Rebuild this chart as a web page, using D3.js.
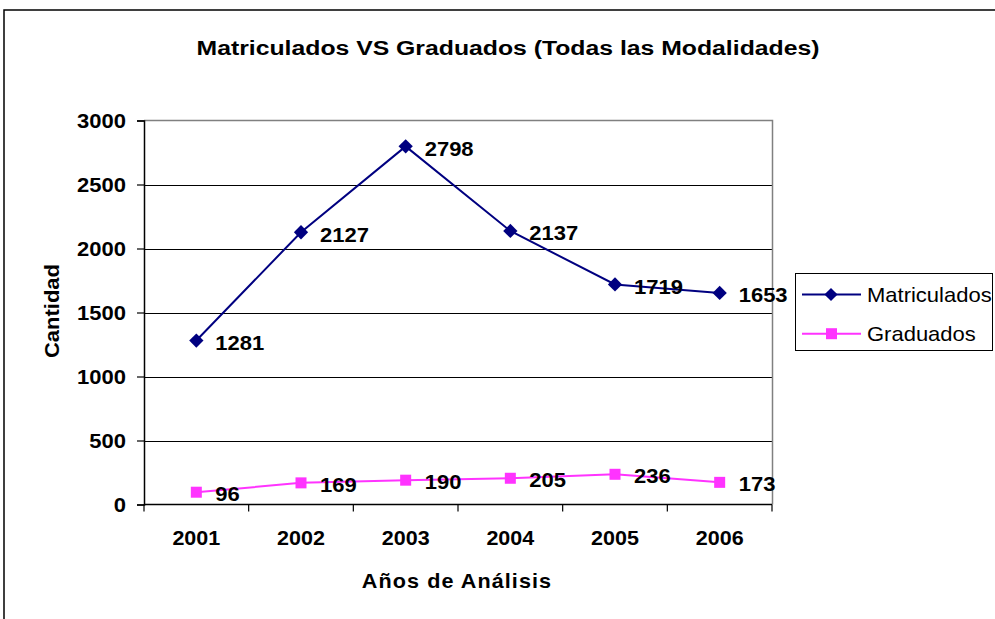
<!DOCTYPE html>
<html>
<head>
<meta charset="utf-8">
<script src="https://cdn.jsdelivr.net/npm/d3@7"></script>
<style>
  body { margin: 0; background: #fff; }
  text { font-family: "Liberation Sans", Arial, sans-serif; }
</style>
</head>
<body>
<div id="chart"></div>
<script>
var width = 995;
var height = 619;

// data
var years = ['2001', '2002', '2003', '2004', '2005', '2006'];
var matriculados = [1281, 2127, 2798, 2137, 1719, 1653];
var graduados = [96, 169, 190, 205, 236, 173];
var yTicks = [0, 500, 1000, 1500, 2000, 2500, 3000];

var svg = d3.select('#chart').append('svg').attr('width', width).attr('height', height);

// the original picture is a bit stretched sideways, so texts get a small x scale
function txt(g, x, y, sx, str) {
    return g.append('text')
        .attr('transform', 'translate(' + x + ',' + y + ') scale(' + sx + ',1)')
        .text(str);
}

// outer chart frame
svg.append('rect')
    .attr('x', 4).attr('y', 10)
    .attr('width', 1000).attr('height', 700)
    .attr('fill', 'none').attr('stroke', '#000').attr('stroke-width', 1.5);

var pLeft = 144, pRight = 772, pTop = 120.5, pBottom = 504.5;

var x = d3.scaleBand().domain(years).range([pLeft, pRight]).padding(0);
var y = d3.scaleLinear().domain([0, 3000]).range([pBottom, pTop]);
var cx = function(d){ return x(d) + x.bandwidth() / 2; };

// gridlines
svg.append('g')
    .selectAll('line')
    .data(yTicks.slice(1, -1))
    .enter().append('line')
    .attr('x1', pLeft).attr('x2', pRight)
    .attr('y1', function(d){ return Math.round(y(d)) + 0.5; })
    .attr('y2', function(d){ return Math.round(y(d)) + 0.5; })
    .attr('stroke', '#000').attr('stroke-width', 1);

// plot area border (top and right in gray)
svg.append('path')
    .attr('d', 'M' + pLeft + ',' + pTop + 'H' + (pRight + 0.5) + 'V' + pBottom)
    .attr('fill', 'none').attr('stroke', '#808080').attr('stroke-width', 1.5);

// y axis
var yAxis = svg.append('g')
    .attr('transform', 'translate(' + pLeft + ',0)')
    .call(d3.axisLeft(y).tickValues(yTicks).tickSize(7).tickFormat(''));
yAxis.select('.domain').attr('stroke', '#000').attr('stroke-width', 1.5);
yAxis.selectAll('.tick line').attr('stroke', '#000').attr('stroke-width', 1.2);
yTicks.forEach(function(t){
    txt(svg, 126, y(t) + 7.5, 1.1, t)
        .attr('text-anchor', 'end')
        .attr('font-size', 20).attr('font-weight', 'bold');
});

// x axis
var xAxis = svg.append('g').attr('transform', 'translate(0,' + pBottom + ')');
xAxis.append('line')
    .attr('x1', pLeft).attr('x2', pRight)
    .attr('stroke', '#000').attr('stroke-width', 1.5);
xAxis.selectAll('.xt')
    .data(years.concat(['end']))
    .enter().append('line')
    .attr('class', 'xt')
    .attr('x1', function(d){ return d == 'end' ? pRight : x(d); })
    .attr('x2', function(d){ return d == 'end' ? pRight : x(d); })
    .attr('y1', 0).attr('y2', 7)
    .attr('stroke', '#000').attr('stroke-width', 1.2);
years.forEach(function(d){
    txt(xAxis, cx(d), 40, 1.05, d)
        .attr('text-anchor', 'middle')
        .attr('font-size', 20.5).attr('font-weight', 'bold');
});

// titles
txt(svg, 508, 55, 1.18, 'Matriculados VS Graduados (Todas las Modalidades)')
    .attr('text-anchor', 'middle')
    .attr('font-size', 21).attr('font-weight', 'bold');

txt(svg, 457, 588, 1.08, 'Años de Análisis')
    .attr('text-anchor', 'middle')
    .attr('font-size', 20).attr('font-weight', 'bold')
    .attr('letter-spacing', 1);

svg.append('text')
    .attr('transform', 'translate(59,311) rotate(-90) scale(1.1,1)')
    .attr('text-anchor', 'middle')
    .attr('font-size', 20).attr('font-weight', 'bold')
    .text('Cantidad');

var line = d3.line()
    .x(function(d, i){ return cx(years[i]); })
    .y(function(d){ return y(d); });

var navy = '#000080';
var pink = '#ff33ff';

// Matriculados
svg.append('path')
    .datum(matriculados)
    .attr('d', line)
    .attr('fill', 'none').attr('stroke', navy).attr('stroke-width', 2);
svg.selectAll('.dm')
    .data(matriculados)
    .enter().append('path')
    .attr('class', 'dm')
    .attr('d', d3.symbol().type(d3.symbolDiamond2).size(130))
    .attr('transform', function(d, i){ return 'translate(' + cx(years[i]) + ',' + y(d) + ')'; })
    .attr('fill', navy);
matriculados.forEach(function(d, i){
    txt(svg, cx(years[i]) + 19, y(d) + 9.5, 1.1, d)
        .attr('font-size', 20).attr('font-weight', 'bold');
});

// Graduados
svg.append('path')
    .datum(graduados)
    .attr('d', line)
    .attr('fill', 'none').attr('stroke', pink).attr('stroke-width', 2);
svg.selectAll('.sg')
    .data(graduados)
    .enter().append('rect')
    .attr('class', 'sg')
    .attr('x', function(d, i){ return cx(years[i]) - 5.5; })
    .attr('y', function(d){ return y(d) - 5.5; })
    .attr('width', 11).attr('height', 11)
    .attr('fill', pink);
graduados.forEach(function(d, i){
    txt(svg, cx(years[i]) + 19, y(d) + 9, 1.1, d)
        .attr('font-size', 20).attr('font-weight', 'bold');
});

// legend
var legend = svg.append('g');
legend.append('rect')
    .attr('x', 795.5).attr('y', 273.5)
    .attr('width', 197).attr('height', 77)
    .attr('fill', '#fff').attr('stroke', '#000').attr('stroke-width', 1);
var items = [
    {name: 'Matriculados', color: navy, shape: 'diamond'},
    {name: 'Graduados', color: pink, shape: 'square'}
];
items.forEach(function(it, i){
    var ly = 294.5 + i * 39.2;
    legend.append('line')
        .attr('x1', 802).attr('x2', 861)
        .attr('y1', ly).attr('y2', ly)
        .attr('stroke', it.color).attr('stroke-width', 2);
    if (it.shape == 'diamond') {
        legend.append('path')
            .attr('d', d3.symbol().type(d3.symbolDiamond2).size(110))
            .attr('transform', 'translate(831,' + ly + ')')
            .attr('fill', it.color);
    } else {
        legend.append('rect')
            .attr('x', 826).attr('y', ly - 5.5)
            .attr('width', 11).attr('height', 11)
            .attr('fill', it.color);
    }
    txt(legend, 867, ly + 7, 1.1, it.name)
        .attr('font-size', 20);
});
</script>
</body>
</html>
